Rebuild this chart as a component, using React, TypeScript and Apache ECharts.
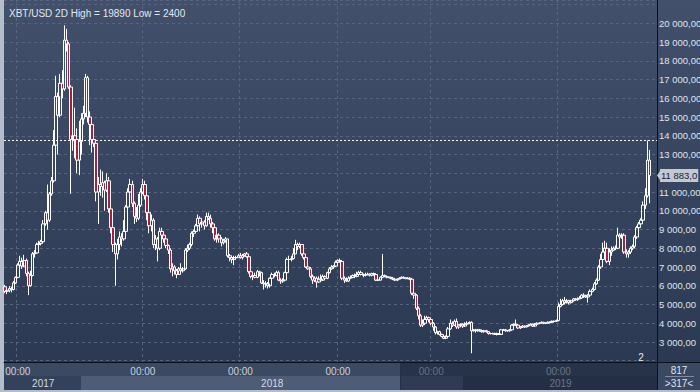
import React, { useEffect, useRef } from 'react';
import * as echarts from 'echarts';

const titleText = 'XBT/USD 2D High = 19890 Low = 2400';
const startDate = '2017-10-23';
const totalSlots = 308;
const timeTickIdx = [6, 65, 111, 157, 201, 261];
const timeTickLabel = '00:00';
const yearIdx = [18, 126, 262];
const yearLabels = ['2017', '2018', '2019'];
const lastPrice = 11883;
const lastPriceLabel = '11 883,0';
const crossPrice = 13750;
const yMin = 1933.3;
const yMax = 21242.7;
const boxTop = '817';
const boxBottom = '>317<';
const cornerLabel = '2';

// [open, close, low, high] per 2-day bar
const ohlc: number[][] = [
  [5950,5700,5600,6050],[5700,5760,5550,5900],[5760,5850,5650,5980],[5850,5800,5650,5950],[5800,6150,5750,6250],
  [6150,6450,6100,6500],[6450,7100,6400,7200],[7100,7300,7000,7600],[7300,7050,6900,7500],[7050,7350,7000,7650],
  [7350,6650,6500,7450],[6650,6000,5500,6750],[6000,6550,5950,6800],[6550,7700,6500,7800],[7700,7750,7500,7900],
  [7750,8200,7700,8300],[8200,8250,8000,8400],[8250,8350,8150,8450],[8350,9300,8300,9500],[9300,9900,9200,10000],
  [9900,9500,9000,11400],[9500,10900,9400,11000],[10900,11600,10800,11800],[11600,13500,11500,14300],[13500,16100,13400,17200],
  [16100,15100,13000,16300],[15100,16800,15000,17300],[16800,16500,16000,17500],[16500,19100,16400,19890],[19100,18900,18500,19700],
  [18900,16600,16500,19000],[16600,13800,10900,16700],[13800,14000,13200,15800],[14000,13800,12800,15500],[13800,12700,12000,14400],
  [12700,13700,11900,14800],[13700,14900,13000,15200],[14900,15200,14600,15600],[15200,17100,15000,17300],[17100,15000,14700,17200],
  [15000,14600,13500,15300],[14600,13800,13100,14900],[13800,13600,13400,14200],[13600,11000,10500,13800],[11000,11400,9300,11800],
  [11400,11300,10800,12200],[11300,11500,10700,12100],[11500,11100,10000,11600],[11100,11600,11000,12000],[11600,10100,9900,11800],
  [10100,9100,8800,10200],[9100,8200,7800,9400],[8200,7700,6000,8300],[7700,8200,7400,8500],[8200,8600,7900,8900],
  [8600,8500,8100,8800],[8500,8900,8400,9500],[8900,10200,8800,10300],[10200,11000,10000,11200],[11000,11400,10400,11700],
  [11400,10400,10200,11600],[10400,9700,9300,10500],[9700,9600,9400,10200],[9600,10300,9500,10900],[10300,11000,10200,11200],
  [11000,11400,10900,11700],[11400,10800,10600,11600],[10800,9900,9500,10900],[9900,9200,8800,10000],[9200,9500,8900,9800],
  [9500,8200,8000,9600],[8200,8500,7900,8700],[8500,8000,7300,8600],[8000,8900,7900,9100],[8900,8700,8400,9100],
  [8700,8500,8300,8800],[8500,8150,8000,8650],[8150,7900,7700,8200],[7900,6900,6700,8000],[6900,7000,6500,7200],
  [7000,6800,6600,7100],[6800,6600,6400,6900],[6600,6900,6600,7000],[6900,6800,6700,7200],[6800,6900,6700,7000],
  [6900,7900,6850,8000],[7900,8000,7800,8200],[8000,8200,7900,8300],[8200,8800,8100,8900],[8800,8900,8600,9000],
  [8900,9200,8800,9300],[9200,9600,9100,9800],[9600,9300,8900,9700],[9300,9400,9100,9500],[9400,9200,9000,9500],
  [9200,9700,9150,9900],[9700,9600,9500,9900],[9600,9300,9100,9800],[9300,9100,8800,9400],[9100,8500,8400,9200],
  [8500,8700,8300,8800],[8700,8500,8300,8800],[8500,8300,8100,8600],[8300,8400,8200,8500],[8400,8500,8300,8600],
  [8500,7600,7500,8500],[7600,7500,7300,7700],[7500,7400,7200,7600],[7400,7500,7100,7600],[7500,7500,7400,7600],
  [7500,7600,7500,7700],[7600,7500,7450,7750],[7500,7600,7400,7700],[7600,7700,7550,7750],[7700,7550,7500,7800],
  [7550,6750,6650,7600],[6750,6500,6400,6900],[6500,6550,6300,6700],[6550,6450,6400,6700],[6450,6750,6400,6850],
  [6750,6700,6500,6800],[6700,6150,6100,6750],[6150,6100,5800,6300],[6100,6100,5900,6250],[6100,6000,5850,6200],
  [6000,6400,5900,6450],[6400,6600,6300,6700],[6600,6550,6450,6700],[6550,6700,6500,6800],[6700,6300,6250,6800],
  [6300,6250,6100,6400],[6250,6300,6150,6400],[6300,6700,6250,6750],[6700,7400,6650,7500],[7400,7400,7300,7600],
  [7400,7450,7300,7600],[7450,7700,7400,8000],[7700,8200,7700,8450],[8200,8100,7900,8300],[8100,8200,8000,8300],
  [8200,7700,7600,8200],[7700,7500,7400,7800],[7500,7000,6950,7600],[7000,6900,6850,7150],[6900,6500,6400,7000],
  [6500,6300,6100,6600],[6300,6400,6200,6500],[6400,6200,5900,6500],[6200,6350,6150,6500],[6350,6300,6250,6600],
  [6300,6500,6250,6600],[6500,6400,6300,6550],[6400,6700,6350,6750],[6700,6900,6650,7000],[6900,7000,6850,7100],
  [7000,7050,6900,7100],[7050,7250,7000,7350],[7250,7350,7200,7400],[7350,7300,7250,7450],[7300,6400,6300,7350],
  [6400,6300,6150,6500],[6300,6250,6200,6450],[6250,6400,6200,6500],[6400,6450,6350,6550],[6450,6550,6400,6600],
  [6550,6500,6400,6650],[6500,6600,6450,6750],[6600,6700,6550,6800],[6700,6600,6550,6800],[6600,6550,6450,6650],
  [6550,6600,6500,6700],[6600,6620,6550,6700],[6620,6560,6500,6660],[6560,6650,6500,6700],[6650,6600,6550,6700],
  [6600,6300,6250,6650],[6300,6300,6250,6400],[6300,6450,6280,6500],[6450,6550,6400,7700],[6550,6500,6450,6600],
  [6500,6450,6400,6550],[6450,6450,6400,6500],[6450,6400,6350,6480],[6400,6350,6300,6450],[6350,6300,6250,6400],
  [6300,6350,6250,6400],[6350,6400,6350,6450],[6400,6450,6380,6500],[6450,6420,6380,6500],[6420,6380,6350,6450],
  [6380,6400,6350,6450],[6400,6350,6300,6450],[6350,5600,5500,6400],[5600,5500,5300,5650],[5500,4800,4700,5550],
  [4800,4400,4200,4900],[4400,3900,3800,4500],[3900,4000,3800,4200],[4000,4200,3900,4400],[4200,4300,4100,4400],
  [4300,4200,4050,4350],[4200,4000,3900,4250],[4000,3800,3600,4050],[3800,3500,3400,3850],[3500,3550,3400,3600],
  [3550,3400,3350,3600],[3400,3300,3250,3450],[3300,3200,3150,3350],[3200,3300,3150,3350],[3300,3700,3250,3800],
  [3700,4000,3650,4200],[4000,3900,3800,4100],[3900,4100,3850,4200],[4100,3800,3700,4250],[3800,3900,3700,3950],
  [3900,3950,3800,4000],[3950,3850,3750,4000],[3850,3950,3800,4050],[3950,4000,3900,4100],[4000,4050,3950,4100],
  [4050,3600,2400,4100],[3600,3650,3550,3700],[3650,3600,3500,3700],[3600,3650,3550,3700],[3650,3600,3550,3700],
  [3600,3550,3500,3650],[3550,3600,3500,3650],[3600,3550,3500,3650],[3550,3450,3400,3580],[3450,3450,3400,3500],
  [3450,3450,3400,3500],[3450,3400,3380,3500],[3400,3450,3350,3500],[3450,3400,3380,3480],[3400,3650,3380,3700],
  [3650,3650,3600,3700],[3650,3600,3550,3700],[3600,3600,3550,3650],[3600,3650,3550,3700],[3650,3900,3600,3950],
  [3900,3950,3850,4000],[3950,3900,3850,4200],[3900,3750,3700,3950],[3750,3800,3700,3850],[3800,3850,3750,3900],
  [3850,3800,3750,3880],[3800,3850,3780,3900],[3850,3900,3820,3950],[3900,3950,3880,4000],[3950,3850,3800,3980],
  [3850,3950,3830,4000],[3950,4000,3920,4050],[4000,4000,3950,4050],[4000,4050,3980,4100],[4050,4000,3950,4080],
  [4000,4000,3950,4050],[4000,4050,3980,4100],[4050,4050,4000,4100],[4050,4100,4020,4150],[4100,4100,4050,4150],
  [4100,4150,4080,4200],[4150,4900,4100,5100],[4900,5000,4850,5300],[5000,5200,4950,5300],[5200,5100,5000,5400],
  [5100,5200,5050,5300],[5200,5100,5000,5250],[5100,5200,5050,5250],[5200,5300,5150,5350],[5300,5250,5200,5350],
  [5250,5300,5200,5380],[5300,5350,5280,5450],[5350,5500,5300,5550],[5500,5450,5350,5600],[5450,5400,5350,5500],
  [5400,5500,5100,5550],[5500,5700,5450,5800],[5700,5800,5650,5900],[5800,6100,5750,6200],[6100,6300,6050,6400],
  [6300,7000,6250,7100],[7000,7400,6900,7700],[7400,7800,7300,8300],[7800,8000,7700,8400],[8000,7300,7200,8300],
  [7300,7800,7100,8000],[7800,7900,7600,8100],[7900,8000,7850,8100],[8000,8000,7900,8150],[8000,8700,7950,9100],
  [8700,8600,8400,8800],[8600,8700,8500,8800],[8700,7800,7700,8800],[7800,7700,7500,7950],[7700,7800,7500,7900],
  [7800,8000,7700,8100],[8000,8100,7900,8200],[8100,8600,8000,8700],[8600,9100,8500,9200],[9100,9300,9000,9400],
  [9300,9500,9200,9600],[9500,10300,9400,10500],[10300,10800,10100,11200],[10800,12700,10700,13750],[12700,11883,10400,13250],
];

function buildCategories(): string[] {
  const out: string[] = [];
  const d0 = new Date(startDate + 'T00:00:00Z').getTime();
  for (let i = 0; i < totalSlots; i++) {
    const d = new Date(d0 + i * 2 * 86400000);
    out.push(d.toISOString().slice(0, 10));
  }
  return out;
}

function fmtPrice(v: number): string {
  const s = Math.round(v).toString();
  const parts: string[] = [];
  for (let i = s.length; i > 0; i -= 3) parts.unshift(s.slice(Math.max(0, i - 3), i));
  return parts.join(' ') + ',00';
}

const FONT = "'Liberation Sans', Arial, sans-serif";
const FS = 10;
const FSY = 9.5;

function vgrad(top: string, bottom: string) {
  return { type: 'linear', x: 0, y: 0, x2: 0, y2: 1, colorStops: [{ offset: 0, color: top }, { offset: 1, color: bottom }] };
}

export default function App() {
  const ref = useRef<HTMLDivElement>(null);
  useEffect(() => {
    if (!ref.current) return;
    const chart = echarts.init(ref.current, undefined, { renderer: 'svg', width: 700, height: 392 });
    const cats = buildCategories();
    const option: any = {
      animation: false,
      backgroundColor: '#b4bdc9',
      title: {
        text: titleText,
        left: 4,
        top: 3,
        textStyle: { color: '#e3e7ee', fontSize: FS, fontWeight: 'normal', fontFamily: FONT },
        z: 12,
      },
      grid: {
        left: 4, right: 43, top: 0, height: 362,
        outerBoundsMode: 'none', containLabel: false,
        show: true, backgroundColor: vgrad('#42506b', '#2c3953'), borderWidth: 0, z: 0,
      },
      xAxis: [
        {
          type: 'category', data: cats, boundaryGap: true, z: 5,
          axisLine: { show: true, lineStyle: { color: '#0b111c', width: 1 } },
          axisTick: { show: false },
          axisLabel: {
            interval: (i: number) => timeTickIdx.includes(i),
            formatter: () => timeTickLabel,
            color: '#c9d1dd', fontSize: FS, fontFamily: FONT, margin: 4,
          },
          splitLine: {
            show: true,
            interval: (i: number) => timeTickIdx.includes(i),
            lineStyle: { color: '#56647f', type: [3, 3], width: 1 },
          },
        },
        {
          type: 'category', data: cats, boundaryGap: true, position: 'bottom', offset: 12, z: 5,
          axisLine: { show: false }, axisTick: { show: false }, splitLine: { show: false },
          axisLabel: {
            interval: (i: number) => yearIdx.includes(i),
            formatter: (_v: string, i: number) => yearLabels[yearIdx.indexOf(i)] ?? '',
            color: '#d4dae4', fontSize: FS, fontFamily: FONT, margin: 4,
          },
        },
      ],
      yAxis: {
        type: 'value', position: 'right', min: yMin, max: yMax,
        minInterval: 1000, maxInterval: 1000, splitNumber: 19, z: 5,
        axisLine: { show: false },
        axisTick: { show: false },
        axisLabel: {
          margin: 2, color: '#dfe5ee', fontSize: FSY, fontFamily: FONT,
          formatter: (v: number) =>
            v >= 3000 && v <= 20000 && Math.abs(v % 1000) < 1e-6 && Math.abs(v - lastPrice) > 500 ? fmtPrice(v) : '',
        },
        splitLine: {
          show: true,
          lineStyle: { color: '#56647f', type: [3, 3], width: 1 },
        },
      },
      series: [
        {
          type: 'candlestick',
          xAxisIndex: 0,
          data: ohlc,
          barWidth: 3,
          clip: false,
          z: 6,
          itemStyle: {
            color: 'rgba(0,0,0,0)',
            color0: '#a51f3e',
            borderColor: '#ffffff',
            borderColor0: '#ffffff',
            borderWidth: 1,
          },
          markLine: {
            symbol: 'none', silent: true, animation: false,
            data: [
              { yAxis: crossPrice, lineStyle: { color: '#ffffff', type: [2, 2], width: 1 }, label: { show: false } },
              {
                yAxis: lastPrice, lineStyle: { color: 'rgba(0,0,0,0)', width: 1 },
                label: {
                  show: true, position: 'end', distance: 3, formatter: lastPriceLabel,
                  backgroundColor: '#c3c8d1', color: '#1c2233', fontSize: FSY, fontFamily: FONT,
                  padding: [2, 1, 1, 1],
                },
              },
            ],
          },
        },
      ],
      graphic: [
        { type: 'rect', z: 1, shape: { x: 658, y: 0, width: 42, height: 362 }, style: { fill: vgrad('#42506b', '#2c3953') } },
        { type: 'rect', z: 1, shape: { x: 4, y: 363, width: 653, height: 13 }, style: { fill: '#3c4963' } },
        { type: 'rect', z: 1, shape: { x: 4, y: 376, width: 653, height: 14 }, style: { fill: '#34415a' } },
        { type: 'rect', z: 1, shape: { x: 81, y: 376, width: 382, height: 14 }, style: { fill: '#4f5c76' } },
        { type: 'rect', z: 10, shape: { x: 400, y: 363, width: 257, height: 27 }, style: { fill: 'rgba(22,32,52,0.55)' } },
        { type: 'line', z: 10, shape: { x1: 400.5, y1: 363, x2: 400.5, y2: 390 }, style: { stroke: '#25304a', lineWidth: 1 } },
        { type: 'rect', z: 1, shape: { x: 658, y: 363, width: 42, height: 27 }, style: { fill: '#3b4862' } },
        { type: 'line', z: 11, shape: { x1: 657.5, y1: 0, x2: 657.5, y2: 390 }, style: { stroke: '#0b111c', lineWidth: 1 } },
        { type: 'line', z: 11, shape: { x1: 4, y1: 362.5, x2: 700, y2: 362.5 }, style: { stroke: '#0b111c', lineWidth: 1 } },
        { type: 'line', z: 11, shape: { x1: 665, y1: 376.5, x2: 694, y2: 376.5 }, style: { stroke: '#7e8aa0', lineWidth: 1 } },
        { type: 'text', z: 11, x: 679, y: 370, style: { text: boxTop, fill: '#dfe5ee', font: `${FS}px ${FONT}`, textAlign: 'center', textVerticalAlign: 'middle' } },
        { type: 'text', z: 11, x: 679, y: 383, style: { text: boxBottom, fill: '#dfe5ee', font: `${FS}px ${FONT}`, textAlign: 'center', textVerticalAlign: 'middle' } },
        { type: 'text', z: 11, x: 641, y: 357, style: { text: cornerLabel, fill: '#e5e9f0', font: `${FS}px ${FONT}`, textAlign: 'center', textVerticalAlign: 'middle' } },
        { type: 'polygon', z: 11, shape: { points: [[657, 175.5], [661, 169.5], [661, 181.5]] }, style: { fill: '#c3c8d1' } },
      ],
    };
    chart.setOption(option);
    return () => chart.dispose();
  }, []);
  return <div ref={ref} style={{ position: 'fixed', left: 0, top: 0, width: 700, height: 392 }} />;
}
